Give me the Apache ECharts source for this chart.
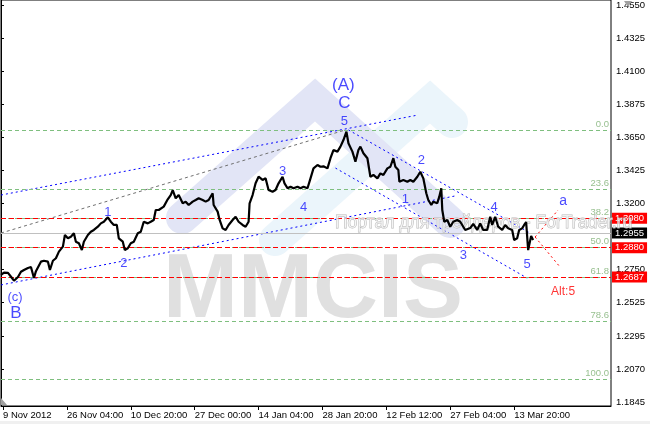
<!DOCTYPE html>
<html><head><meta charset="utf-8">
<script src="https://cdn.jsdelivr.net/npm/echarts@6/dist/echarts.min.js"></script>
<style>html,body{margin:0;padding:0;background:#fff}#c{width:650px;height:424px}</style>
</head><body><div id="c"></div>
<script>
// ---- data (H4 bars, index = bar number) ----
const barIdx = [0,3,7,10,13,17,20,23,27,30,33,35,37,40,43,47,49,52,55,58,62,64,67,70,73,75,78,81,83,87,90,93,97,100,103,107,110,113,116,118,122,124,127,130,133,137,140,143,147,150,153,155,158,160,163,167,170,172,175,178,182,185,188,192,195,198,202,205,208,212,213,217,219,222,225,228,232,235,238,242,245,248,249,252,255,258,262,265,268,272,275,278,282,284,287,290,293,297,300,303,307,310,313,317,320,323,327,330,333,337,340,343,346,348,352,355,358,360,363,367,370,373,377,380,383,387,390,393,395,398,399,403,407,410,413,417,420,423,426,428,431,433,437,439,441,442,444,447,450,453,457,460,465,470,473,477,480,483,487,490,492,495,498,502,505,508,512,514,517,519,522,524,526,528,531,533];
const closePrice = [1.2714,1.2730,1.2728,1.2702,1.2675,1.2700,1.2736,1.2748,1.2762,1.2768,1.2693,1.2740,1.2748,1.2805,1.2811,1.2805,1.2748,1.2811,1.2828,1.2873,1.2907,1.2987,1.2964,1.2975,1.2998,1.2941,1.2930,1.2884,1.2941,1.2987,1.3009,1.3021,1.3043,1.3066,1.3077,1.3107,1.3077,1.3055,1.3055,1.2964,1.2941,1.2884,1.2896,1.2930,1.2941,1.2998,1.3009,1.3077,1.3066,1.3077,1.3089,1.3157,1.3157,1.3157,1.3180,1.3230,1.3259,1.3293,1.3237,1.3259,1.3203,1.3214,1.3191,1.3214,1.3225,1.3237,1.3225,1.3214,1.3225,1.3271,1.3191,1.3146,1.3089,1.3032,1.3021,1.3055,1.3089,1.3111,1.3077,1.3055,1.3043,1.3077,1.3203,1.3259,1.3339,1.3384,1.3362,1.3373,1.3293,1.3282,1.3293,1.3339,1.3384,1.3339,1.3305,1.3316,1.3305,1.3316,1.3305,1.3316,1.3305,1.3373,1.3441,1.3464,1.3452,1.3455,1.3441,1.3510,1.3566,1.3555,1.3589,1.3634,1.3691,1.3612,1.3555,1.3486,1.3566,1.3589,1.3544,1.3510,1.3384,1.3396,1.3373,1.3407,1.3396,1.3441,1.3452,1.3510,1.3452,1.3430,1.3350,1.3362,1.3350,1.3362,1.3350,1.3384,1.3418,1.3373,1.3271,1.3225,1.3191,1.3214,1.3203,1.3248,1.3305,1.3157,1.3077,1.3089,1.3043,1.3077,1.3089,1.3077,1.3021,1.3034,1.3062,1.3021,1.3066,1.3021,1.3021,1.3111,1.3055,1.3111,1.3043,1.3021,1.3055,1.3032,1.3021,1.2953,1.2964,1.3021,1.3032,1.3055,1.3075,1.2884,1.2980,1.2953];

const xTickBars = [2,66,130,194,258,322,386,450,514];
const xTickLabels = ['9 Nov 2012','26 Nov 04:00','10 Dec 20:00','27 Dec 00:00','14 Jan 04:00','28 Jan 20:00','12 Feb 12:00','27 Feb 04:00','13 Mar 20:00'];
const yTickValues = [1.4550,1.4325,1.4100,1.3875,1.3650,1.3425,1.3200,1.2750,1.2525,1.2295,1.2070,1.1845];

const fibHigh = 1.3712, fibLow = 1.2048;
const fibLevels = [0.0, 23.6, 38.2, 50.0, 61.8, 78.6, 100.0];
const redLevels = [1.3080, 1.2880, 1.2687];
const bidPrice = 1.2955;

const chanUpper = [[0,1.3259],[418,1.3805]];
const chanLower = [[0,1.2646],[455,1.3253]];
const chanMiddle = [[0,1.3000],[345,1.3703]];
const downUpper = [[348,1.3703],[530,1.3000]];
const downLower = [[335,1.3443],[527,1.2693]];
const projUp = [[535,1.2973],[558,1.3157]];
const projDown = [[535,1.2973],[560,1.2768]];

const waveText = ['(c)','B','1','2','3','4','(A)','C','5','2','1','3','4','5','a','Alt:5'];
const waveBar  = [14,15,107,123,282,303,343,344,344,421,405,463,494,527,563,563];
const wavePrice= [1.2564,1.2455,1.3143,1.2796,1.3423,1.3178,1.4009,1.3887,1.3764,1.3498,1.3232,1.2850,1.3178,1.2789,1.3218,1.2598];

// ---- styles ----
const F = 'Liberation Sans, Arial, sans-serif';
const waveSize = [13,17,13,13,13,13,17,17,13,13,13,13,13,13,14,12];
const waveColor = waveText.map(t => t === 'Alt:5' ? '#ff0000' : '#1a1aff');

const chart = echarts.init(document.getElementById('c'), null, {renderer:'canvas'});

function dashLine(name, pts, color, dash, z) {
  return {type:'line', name, data: pts, symbol:'none', silent:true, z: z||3,
    lineStyle:{color, width:1, type: dash}, animation:false};
}

const option = {
  animation:false,
  backgroundColor:'#fff',
  grid:{left:0, right:39, top:0, bottom:18, show:true, borderColor:'#000', borderWidth:1, backgroundColor:'transparent'},
  xAxis:{type:'value', min:0, max:611, splitLine:{show:false},
    axisLine:{show:true, lineStyle:{color:'#000'}},
    axisTick:{show:true, customValues:xTickBars, length:4, lineStyle:{color:'#000'}},
    axisLabel:{show:true, customValues:xTickBars, align:'left', margin:4, fontFamily:F, fontSize:9.5, color:'#000',
      formatter:(v)=>{const i=xTickBars.indexOf(Math.round(v)); return i>=0?xTickLabels[i]:'';}}
  },
  yAxis:{type:'value', position:'right', min:1.18207, max:1.45889, scale:true, splitLine:{show:false},
    axisLine:{show:true, lineStyle:{color:'#000'}},
    axisTick:{show:true, customValues:yTickValues, length:3, lineStyle:{color:'#000'}},
    axisLabel:{show:true, customValues:yTickValues, margin:5, fontFamily:F, fontSize:9.5, color:'#000',
      formatter:(v)=>v.toFixed(4)}
  },
  graphic:[
    // MMCIS logo chevrons (watermark)
    {type:'polyline', z:-5, shape:{points:[[182,218],[315,100],[450,222]]},
      style:{stroke:'#e2e5f6', fill:null, lineWidth:32, lineCap:'round', lineJoin:'miter'}},
    {type:'polyline', z:-6, shape:{points:[[275,240],[430,102],[452,122]]},
      style:{stroke:'#ebf5fb', fill:null, lineWidth:32, lineCap:'round', lineJoin:'miter'}},
    {type:'text', z:-4, style:{text:'MMCIS', x:163, y:292, fontFamily:F, fontWeight:'bold', fontSize:90,
      fill:'#e0e0e0', verticalAlign:'middle', textAlign:'left'}},
    {type:'text', z:8, style:{text:'Портал для трейдеров - ForTrader.ru', x:335, y:223, fontFamily:F, fontSize:17.5,
      fill:'rgba(255,255,255,0.6)', stroke:'#b8b8b8', lineWidth:0.9, verticalAlign:'middle', textAlign:'left'}},
    {type:'rect', z:-10, shape:{x:0, y:421, width:650, height:3}, style:{fill:'#f0f0f0'}},
    {type:'polygon', z:60, shape:{points:[[1,398],[1,405],[7,405]]}, style:{fill:'#a0a0a0'}},
    {type:'polygon', z:60, shape:{points:[[624,1],[632,1],[628,7]]}, style:{fill:'#a0a0a0'}}
  ],
  series:[
    // Fibonacci levels
    {type:'line', data:[], z:2, silent:true,
      markLine:{silent:true, symbol:'none', animation:false,
        lineStyle:{color:'#7fbf7f', type:[4,3], width:1},
        label:{show:true, position:'insideEndTop', distance:[2,1], fontFamily:F, fontSize:9.5, color:'#98c090',
          formatter:(p)=>p.data.lvl},
        data: fibLevels.map(l=>({yAxis: fibHigh-(fibHigh-fibLow)*l/100, lvl: l.toFixed(1)}))}},
    // bid line
    {type:'line', data:[], z:3, silent:true,
      markLine:{silent:true, symbol:'none', animation:false,
        lineStyle:{color:'#c0c0c0', type:'solid', width:1},
        label:{show:true, position:'end', distance:1, fontFamily:F, fontSize:9.5, color:'#fff', backgroundColor:'#000',
          padding:[1,3,0,3], formatter:(p)=>p.data.yAxis.toFixed(4)},
        data:[{yAxis:bidPrice}]}},
    // red horizontal levels
    {type:'line', data:[], z:4, silent:true,
      markLine:{silent:true, symbol:'none', animation:false,
        lineStyle:{color:'#ff0000', type:[5,3], width:1},
        label:{show:true, position:'end', distance:1, fontFamily:F, fontSize:9.5, color:'#fff', backgroundColor:'#ff0000',
          padding:[1,3,0,3], formatter:(p)=>p.data.yAxis.toFixed(4)},
        data: redLevels.map(v=>({yAxis:v}))}},
    dashLine('chanUpper', chanUpper, '#0000ff', [2,3]),
    dashLine('chanLower', chanLower, '#0000ff', [2,3]),
    dashLine('chanMiddle', chanMiddle, '#707070', [3,3]),
    dashLine('downUpper', downUpper, '#0000ff', [2,3]),
    dashLine('downLower', downLower, '#0000ff', [2,3]),
    dashLine('projUp', projUp, '#ff0000', [2,3]),
    dashLine('projDown', projDown, '#ff0000', [2,3]),
    // price
    {type:'line', name:'EURUSD', data: barIdx.map((b,i)=>[b, closePrice[i]]), symbol:'none', z:10, silent:true,
      lineStyle:{color:'#000', width:2.2}, animation:false},
    // wave labels
    {type:'scatter', z:20, silent:true, symbolSize:1, itemStyle:{color:'rgba(0,0,0,0)'},
      data: waveText.map((t,i)=>({value:[waveBar[i], wavePrice[i]],
        label:{show:true, position:'inside', formatter:t, fontFamily:F, fontSize:waveSize[i], color:waveColor[i]}})),
      animation:false}
  ]
};
chart.setOption(option);
</script>
</body></html>
